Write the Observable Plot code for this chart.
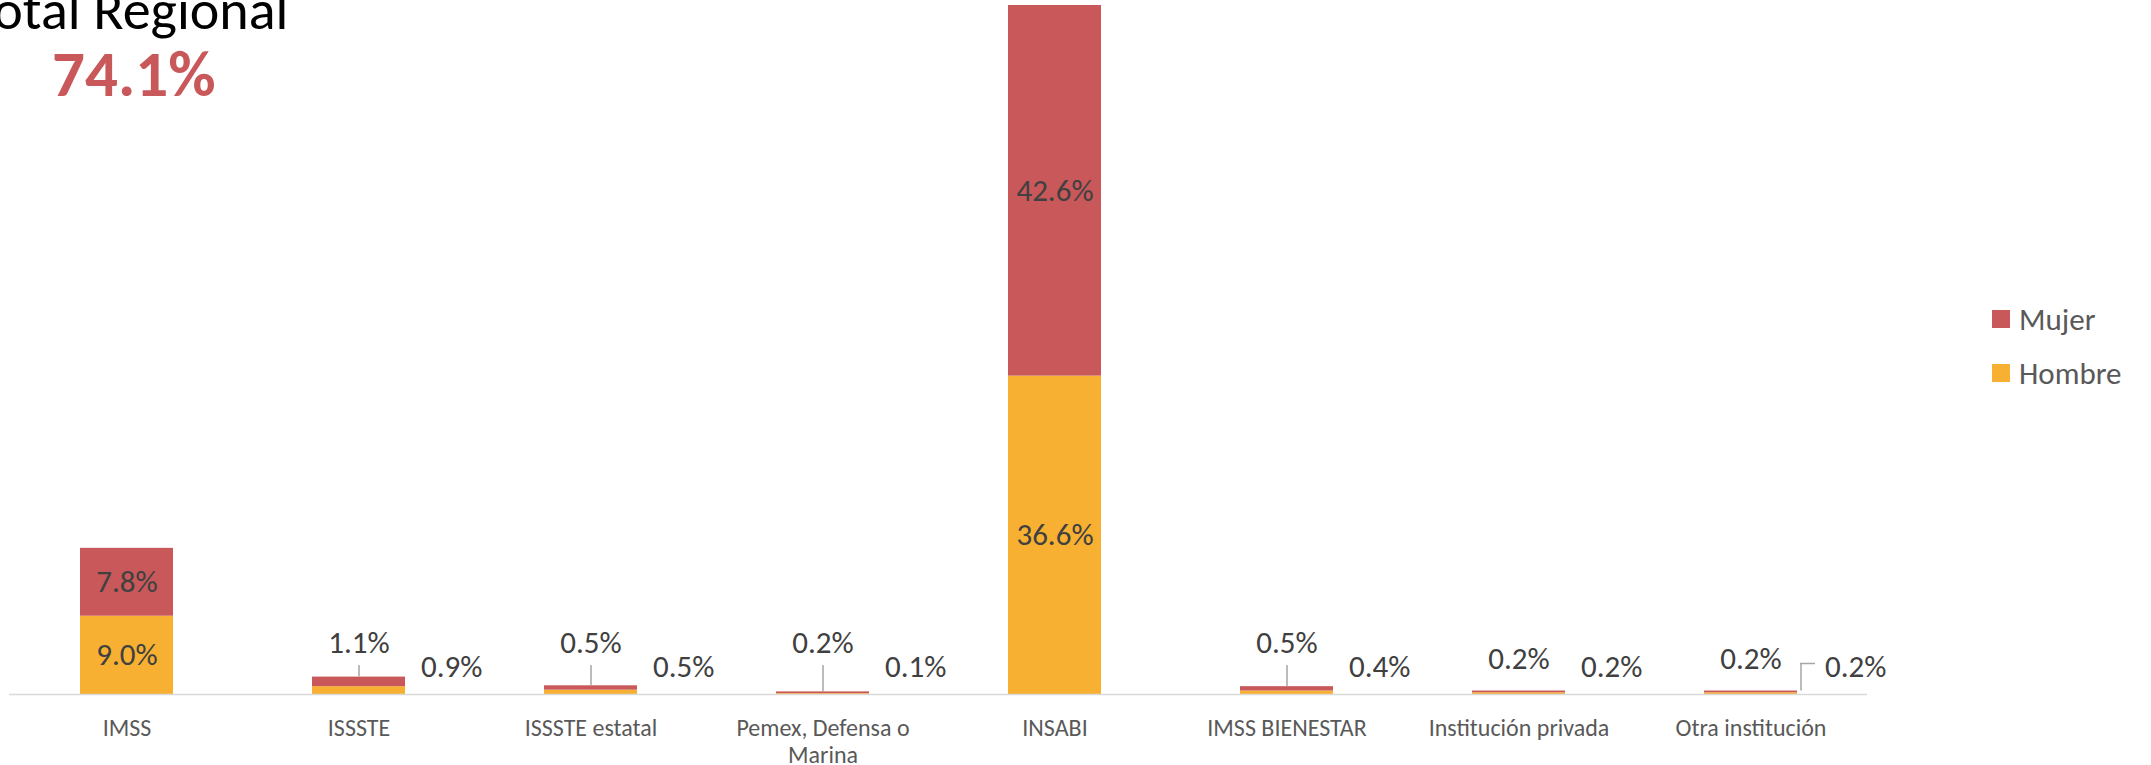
<!DOCTYPE html>
<html>
<head>
<meta charset="utf-8">
<script src="https://cdn.jsdelivr.net/npm/d3@7"></script>
<script src="https://cdn.jsdelivr.net/npm/@observablehq/plot@0.6"></script>
<style>
  html, body { margin: 0; padding: 0; background: #fff; }
  #wrap { position: relative; width: 2151px; height: 765px; overflow: hidden; font-family: Carlito, Calibri, Lato, sans-serif; }
  #chart { position: absolute; left: 0; top: 0; }
  #title { position: absolute; left: -29px; top: -18px; font-size: 56px; line-height: 1; color: #000; white-space: nowrap; }
  #total { position: absolute; left: 52px; top: 41px; font-size: 65px; font-weight: bold; line-height: 1; color: #C8585A; white-space: nowrap; }
  #legend { position: absolute; left: 1992px; top: 292px; }
  .item { display: flex; align-items: center; height: 54px; font-size: 31px; color: #595959; }
  .sw { width: 18px; height: 18px; margin-right: 9px; }
</style>
</head>
<body>
<div id="wrap">
  <div id="chart"></div>
  <div id="title"></div>
  <div id="total"></div>
  <div id="legend"></div>
</div>
<script>
// ---- data ----
const categories = ["IMSS", "ISSSTE", "ISSSTE estatal", "Pemex, Defensa o Marina", "INSABI", "IMSS BIENESTAR", "Institución privada", "Otra institución"];
const tickLabels = ["IMSS", "ISSSTE", "ISSSTE estatal", "Pemex, Defensa o\nMarina", "INSABI", "IMSS BIENESTAR", "Institución privada", "Otra institución"];
const hombre = [9.0, 0.9, 0.5, 0.1, 36.6, 0.4, 0.2, 0.2];
const mujer  = [7.8, 1.1, 0.5, 0.2, 42.6, 0.5, 0.2, 0.2];
const series = ["Hombre", "Mujer"];
const seriesColors = ["#F7B032", "#C8585A"];
const legendOrder = ["Mujer", "Hombre"];
const titleText = "Total Regional";
const totalText = "74.1%";
const leaderCats = ["ISSSTE", "ISSSTE estatal", "Pemex, Defensa o Marina", "IMSS BIENESTAR"];
const elbowCats = ["Otra institución"];

// ---- derived tables ----
const fmt = v => d3.format(".1f")(v) + "%";
const rows = [];
categories.forEach((c, i) => {
  rows.push({cat: c, sexo: "Hombre", value: hombre[i]});
  rows.push({cat: c, sexo: "Mujer", value: mujer[i]});
});
const cats = categories.map((c, i) => ({cat: c, h: hombre[i], m: mujer[i], total: hombre[i] + mujer[i]}));
const insideMin = 3;
const bigCats = new Set(cats.filter(d => Math.min(d.h, d.m) >= insideMin).map(d => d.cat));
const small = cats.filter(d => !bigCats.has(d.cat));
const yMax = d3.max(cats, d => d.total);

const W = 2151, H = 765, mT = 5, mB = 71, mL = 9, mR = 284;
const pxPerUnit = (H - mT - mB) / yMax;
const px = n => n / pxPerUnit;

const textFont = {fontSize: 31, fill: "#404040"};
const leader = {stroke: "#A6A6A6", strokeWidth: 1.5};

const chart = Plot.plot({
  width: W, height: H,
  marginTop: mT, marginBottom: mB, marginLeft: mL, marginRight: mR,
  style: {fontFamily: "Carlito, Calibri, Lato, sans-serif", background: "transparent", overflow: "visible"},
  x: {domain: categories, paddingInner: 0.6, paddingOuter: 0.3, axis: null},
  y: {domain: [0, yMax], axis: null},
  color: {domain: series, range: seriesColors},
  marks: [
    Plot.barY(rows, {x: "cat", y: "value", fill: "sexo"}),
    Plot.ruleY([0], {stroke: "#D9D9D9", strokeWidth: 1.5}),
    Plot.axisX({
      tickSize: 0, tickPadding: 23, fontSize: 24, color: "#595959", lineHeight: 1.1, label: null,
      tickFormat: d => tickLabels[categories.indexOf(d)]
    }),
    // labels inside big bars
    Plot.text(rows.filter(d => bigCats.has(d.cat)), Plot.stackY({
      x: "cat", y: "value", z: "sexo", text: d => fmt(d.value), ...textFont
    })),
    // top labels (Mujer) for small bars, with leader lines
    Plot.ruleX(small.filter(d => leaderCats.includes(d.cat)), {
      x: "cat", y1: d => d.total, y2: px(29), ...leader
    }),
    Plot.text(small.filter(d => leaderCats.includes(d.cat)), {
      x: "cat", y: 0, dy: -51, text: d => fmt(d.m), ...textFont
    }),
    Plot.text(small.filter(d => !leaderCats.includes(d.cat)), {
      x: "cat", y: "total", dy: -32, text: d => fmt(d.m), ...textFont
    }),
    // right labels (Hombre)
    Plot.text(small.filter(d => !elbowCats.includes(d.cat)), {
      x: "cat", y: 0, dy: -27, dx: 62, textAnchor: "start", text: d => fmt(d.h), ...textFont
    }),
    Plot.text(small.filter(d => elbowCats.includes(d.cat)), {
      x: "cat", y: 0, dy: -27, dx: 74, textAnchor: "start", text: d => fmt(d.h), ...textFont
    }),
    Plot.ruleX(small.filter(d => elbowCats.includes(d.cat)), {
      x: "cat", dx: 50, y1: d => d.total, y2: px(31), ...leader
    }),
    Plot.tickY(small.filter(d => elbowCats.includes(d.cat)), {
      x: "cat", y: px(31), dx: 93, insetLeft: 3, insetRight: 75, ...leader
    })
  ]
});
document.getElementById("chart").appendChild(chart);

document.getElementById("title").textContent = titleText;
document.getElementById("total").textContent = totalText;

const legend = document.getElementById("legend");
legendOrder.forEach(s => {
  const it = document.createElement("div");
  it.className = "item";
  const sw = document.createElement("div");
  sw.className = "sw";
  sw.style.background = seriesColors[series.indexOf(s)];
  const tx = document.createElement("span");
  tx.textContent = s;
  it.appendChild(sw); it.appendChild(tx);
  legend.appendChild(it);
});
</script>
</body>
</html>
